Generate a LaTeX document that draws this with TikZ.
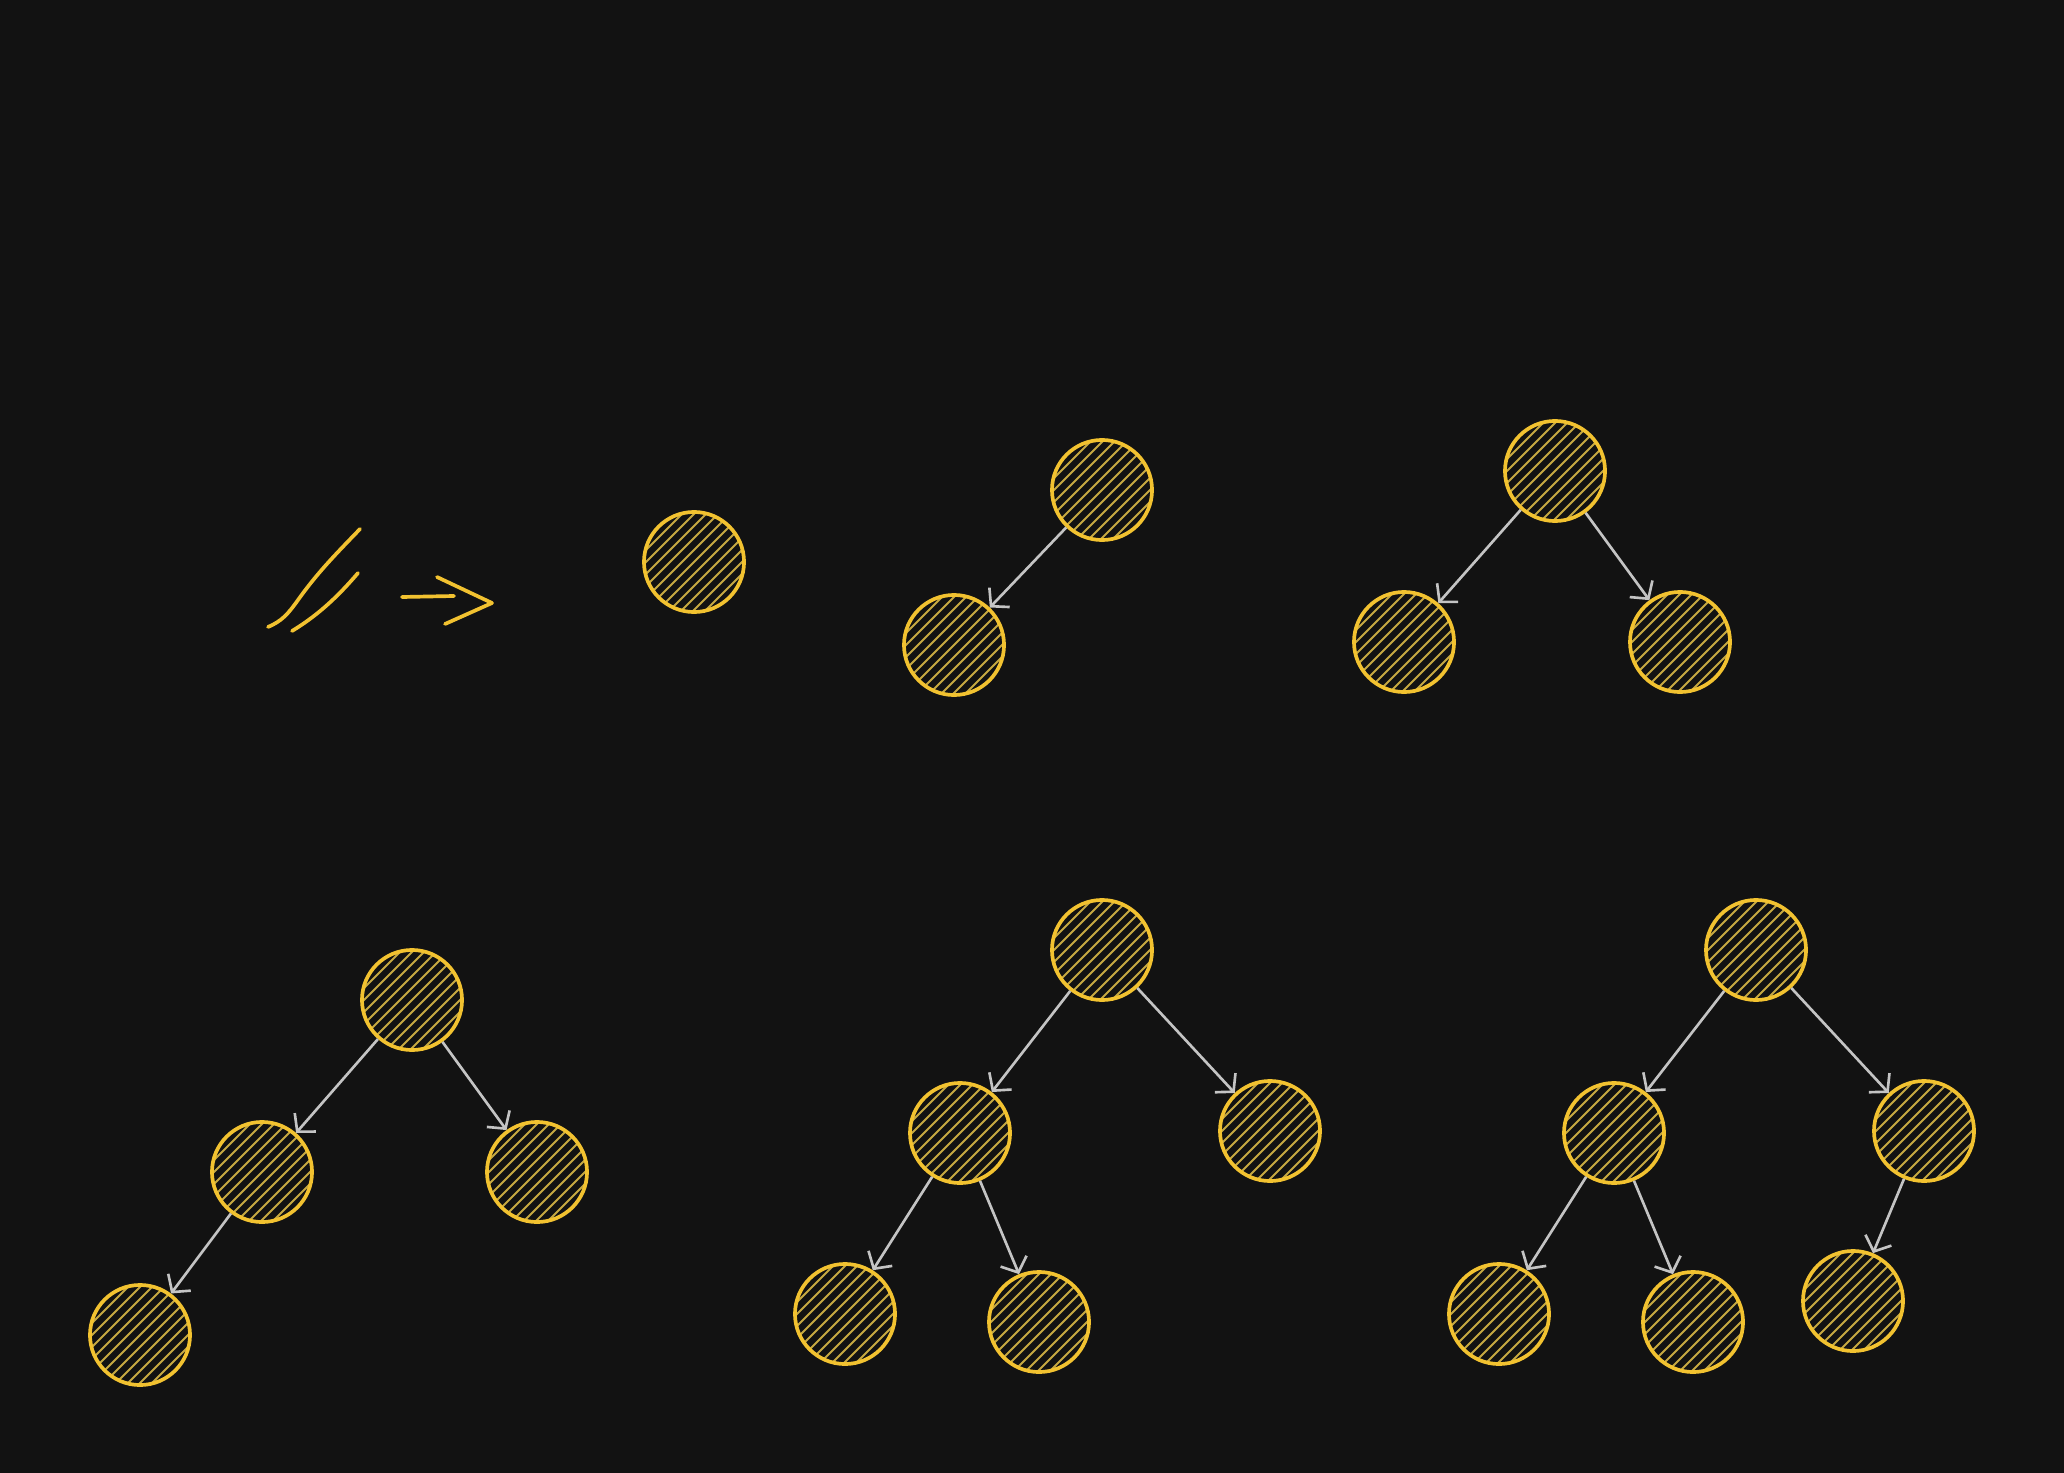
\documentclass[tikz,border=0pt]{standalone}
\usetikzlibrary{arrows.meta}
\definecolor{bg}{HTML}{121212}
\definecolor{yel}{HTML}{F2C230}
\definecolor{hat}{HTML}{C6A942}
\definecolor{edgec}{HTML}{C4C4C4}
\tikzset{
  hatchline/.style={draw=hat, line width=0.55pt},
  tnode/.style={circle, draw=yel, line width=1.05pt, minimum size=1cm, inner sep=0pt,
    path picture={\foreach \k in {-9,...,9}{\draw[hatchline] ([shift={({\k*12-60},60)}]path picture bounding box.center) -- ++(120,-120);}}},
  link/.style={draw=edgec, line width=0.75pt, -{Straight Barb[length=3.5pt,width=8pt]}},
  sketch/.style={draw=yel, line width=1.05pt, line cap=round, line join=round}
}
\begin{document}
\begin{tikzpicture}[x=0.01cm,y=-0.01cm]
\fill[bg] (0,0) rectangle (2064,1473);
\useasboundingbox (0,0) rectangle (2064,1473);
% sketch "// ->"
\draw[sketch] (268,627) .. controls (282,621) and (288,614) .. (298,600) .. controls (318,572) and (335,555) .. (360,529);
\draw[sketch] (292,631) .. controls (315,617) and (335,600) .. (358,573);
\draw[sketch] (402,597) -- (454,596);
\draw[sketch] (437,577) -- (492,603) -- (445,624);
% single
\node[tnode] (s) at (694,562) {};
% tree 2
\node[tnode] (a1) at (1102,490) {};
\node[tnode] (a2) at (954,645) {};
\draw[link] (a1) -- (a2);
% tree 3
\node[tnode] (b1) at (1555,471) {};
\node[tnode] (b2) at (1404,642) {};
\node[tnode] (b3) at (1680,642) {};
\draw[link] (b1) -- (b2);
\draw[link] (b1) -- (b3);
% tree 4
\node[tnode] (c1) at (412,1000) {};
\node[tnode] (c2) at (262,1172) {};
\node[tnode] (c3) at (537,1172) {};
\node[tnode] (c4) at (140,1335) {};
\draw[link] (c1) -- (c2);
\draw[link] (c1) -- (c3);
\draw[link] (c2) -- (c4);
% tree 5
\node[tnode] (d1) at (1102,950) {};
\node[tnode] (d2) at (960,1133) {};
\node[tnode] (d3) at (1270,1131) {};
\node[tnode] (d4) at (845,1314) {};
\node[tnode] (d5) at (1039,1322) {};
\draw[link] (d1) -- (d2);
\draw[link] (d1) -- (d3);
\draw[link] (d2) -- (d4);
\draw[link] (d2) -- (d5);
% tree 6
\node[tnode] (e1) at (1756,950) {};
\node[tnode] (e2) at (1614,1133) {};
\node[tnode] (e3) at (1924,1131) {};
\node[tnode] (e4) at (1499,1314) {};
\node[tnode] (e5) at (1693,1322) {};
\node[tnode] (e6) at (1853,1301) {};
\draw[link] (e1) -- (e2);
\draw[link] (e1) -- (e3);
\draw[link] (e2) -- (e4);
\draw[link] (e2) -- (e5);
\draw[link] (e3) -- (e6);
\end{tikzpicture}
\end{document}
